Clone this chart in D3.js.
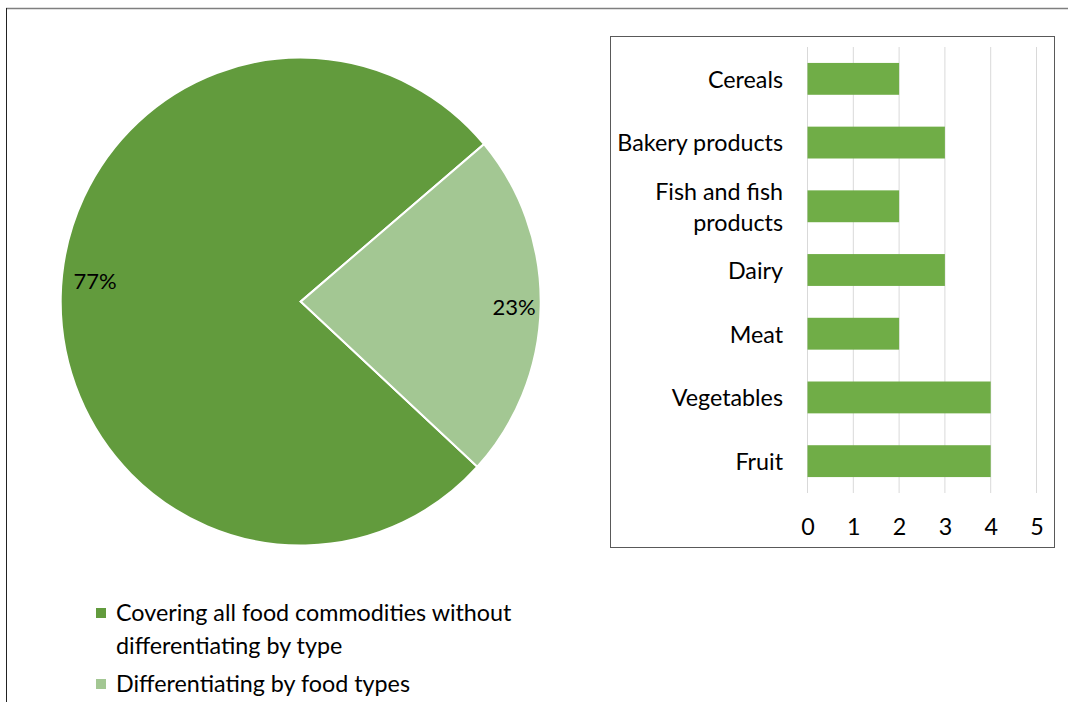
<!DOCTYPE html>
<html><head><meta charset="utf-8">
<script src="https://cdn.jsdelivr.net/npm/d3@7"></script>
<style>body{margin:0;background:#fff}svg{display:block}text{font-family:Lato,"Open Sans",sans-serif;fill:#000}</style>
</head><body>
<script>
const pieLabels = ["Covering all food commodities without differentiating by type", "Differentiating by food types"];
const pieValues = [77, 23];
const pieColors = ["#629B3D", "#A3C793"];
const barCategories = ["Cereals", "Bakery products", "Fish and fish products", "Dairy", "Meat", "Vegetables", "Fruit"];
const barValues = [2, 3, 2, 3, 2, 4, 4];
const xTicks = [0, 1, 2, 3, 4, 5];

const W = 1068, H = 702;
const FS = 23.3;
const svg = d3.select("body").append("svg").attr("width", W).attr("height", H);

// outer frame (partially visible)
svg.append("line").attr("x1", 6).attr("x2", W).attr("y1", 8.5).attr("y2", 8.5).attr("stroke", "#7f7f7f").attr("stroke-width", 1.5);
svg.append("line").attr("x1", 6.5).attr("x2", 6.5).attr("y1", 8).attr("y2", H).attr("stroke", "#222").attr("stroke-width", 1);

// Pie
const cx = 300.7, cy = 301.6, r = 240, sy = 244 / 240;
const startRot = 132.6 * Math.PI / 180;
const pie = d3.pie().sort(null).startAngle(startRot).endAngle(startRot + 2 * Math.PI);
const arcs = pie(pieValues);
const arc = d3.arc().innerRadius(0).outerRadius(r);
const pg = svg.append("g").attr("transform", `translate(${cx},${cy}) scale(1,${sy})`);
pg.selectAll("path").data(arcs).join("path").attr("d", arc)
  .attr("fill", (d, i) => pieColors[i]).attr("stroke", "#fff").attr("stroke-width", 2);
const labelPos = [[95, 283], [514, 309]];
const fmt = d => Math.round(d.data) + "%";
svg.selectAll("text.pl").data(arcs).join("text").attr("class", "pl")
  .attr("x", (d, i) => labelPos[i][0]).attr("y", (d, i) => labelPos[i][1])
  .attr("text-anchor", "middle").attr("dominant-baseline", "middle")
  .attr("font-size", 22).text(fmt);

// Legend
const leg = svg.append("g");
const legendLines = [["Covering all food commodities without", "differentiating by type"], ["Differentiating by food types"]];
const legY = [613, 684];
legendLines.forEach((lines, i) => {
  leg.append("rect").attr("x", 96).attr("y", legY[i] - 5).attr("width", 10).attr("height", 10).attr("fill", pieColors[i]);
  lines.forEach((t, j) => {
    leg.append("text").attr("x", 116).attr("y", legY[i] + 2 + j * 33).attr("dominant-baseline", "middle")
      .attr("font-size", FS).text(t);
  });
});

// Bar chart
svg.append("rect").attr("x", 610.5).attr("y", 36.5).attr("width", 444).attr("height", 511)
  .attr("fill", "none").attr("stroke", "#595959").attr("stroke-width", 1);
const x = d3.scaleLinear().domain([0, 5]).range([807.5, 1036.5]);
const y = d3.scaleBand().domain(barCategories).range([47, 493]).paddingInner(0.5).paddingOuter(0.25);
const bg = svg.append("g");
bg.selectAll("line.grid").data(xTicks).join("line").attr("class", "grid")
  .attr("x1", d => x(d)).attr("x2", d => x(d)).attr("y1", 47).attr("y2", 493)
  .attr("stroke", "#d9d9d9").attr("stroke-width", 1);
bg.selectAll("rect.bar").data(barCategories).join("rect").attr("class", "bar")
  .attr("x", x(0)).attr("y", d => y(d)).attr("width", (d, i) => x(barValues[i]) - x(0)).attr("height", y.bandwidth())
  .attr("fill", "#70AD47");
const xAxis = d3.axisBottom(x).tickValues(xTicks).tickFormat(d3.format("d")).tickSize(0).tickPadding(0);
const xa = svg.append("g").attr("transform", "translate(0,529)").call(xAxis);
xa.select(".domain").remove();
xa.selectAll("text").attr("font-size", FS).attr("dy", null).attr("dominant-baseline", "middle").style("font-family", "Lato, sans-serif").attr("fill", "#000");

// category labels
const wrapMap = {"Fish and fish products": ["Fish and fish", "products"]};
barCategories.forEach(c => {
  const lines = wrapMap[c] || [c];
  const yc = y(c) + y.bandwidth() / 2;
  lines.forEach((t, j) => {
    svg.append("text").attr("x", 783).attr("y", yc + (j - (lines.length - 1) / 2) * 31 + 3)
      .attr("text-anchor", "end").attr("dominant-baseline", "middle").attr("font-size", FS).text(t);
  });
});
</script>
</body></html>
